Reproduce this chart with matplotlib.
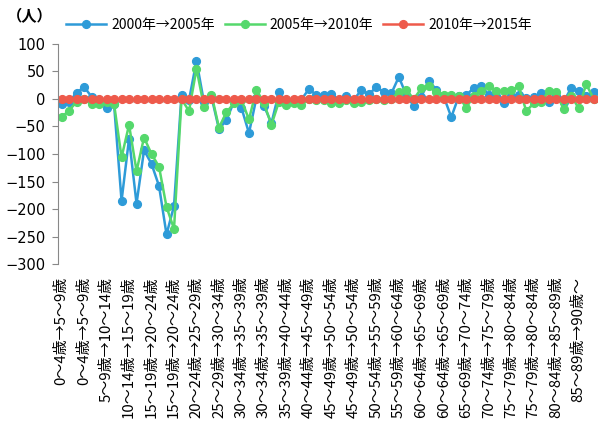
import matplotlib
matplotlib.use("Agg")
import matplotlib.pyplot as plt
import numpy as np

plt.rcParams['font.family'] = ['DejaVu Sans', 'Noto Sans CJK JP']

# age transitions (each appears 4 times in the source table)
transitions = [
    "0～4歳→5～9歳", "5～9歳→10～14歳", "10～14歳→15～19歳", "15～19歳→20～24歳",
    "20～24歳→25～29歳", "25～29歳→30～34歳", "30～34歳→35～39歳", "35～39歳→40～44歳",
    "40～44歳→45～49歳", "45～49歳→50～54歳", "50～54歳→55～59歳", "55～59歳→60～64歳",
    "60～64歳→65～69歳", "65～69歳→70～74歳", "70～74歳→75～79歳", "75～79歳→80～84歳",
    "80～84歳→85～89歳", "85～89歳→90歳～",
]
categories = [t for t in transitions for _ in range(4)]

s_2000_2005 = [
    -9, -5, 11, 22, 4, -2, -17, -10, -185, -72, -190, -93,
    -118, -158, -246, -194, 7, -2, 69, -6, 4, -55, -38, -5,
    -16, -62, 2, -12, -44, 12, -5, -2, -1, 18, 7, 8,
    9, -2, 6, -1, 16, 9, 21, 13, 10, 40, 7, -13,
    4, 33, 17, 4, -33, 5, 7, 20, 23, 8, 6, -8,
    5, 7, 2, 3, 10, -5, 5, -5, 20, 15, 6, 12,
]
s_2005_2010 = [
    -33, -21, -5, 0, -10, -9, -5, -9, -106, -47, -131, -70,
    -100, -123, -196, -236, 0, -22, 55, -14, 8, -52, -24, -8,
    -2, -37, 17, -8, -47, -5, -11, -7, -11, 0, -2, -2,
    -7, -8, -2, -7, -5, -1, 0, -1, 0, 13, 16, 0,
    19, 23, 12, 8, 7, 5, -16, 6, 15, 23, 15, 14,
    16, 23, -22, -8, -5, 15, 12, -19, 6, -17, 27, 0,
]
s_2010_2015 = [0] * 72

series = [
    ("2000年→2005年", s_2000_2005, "#2e9bd8"),
    ("2005年→2010年", s_2005_2010, "#55d86c"),
    ("2010年→2015年", s_2010_2015, "#ee5a4b"),
]

fig = plt.figure(figsize=(6.09, 4.22), dpi=100)
ax = fig.add_axes([0.095, 0.374, 0.886, 0.522])

x = np.arange(len(categories))
for name, vals, col in series:
    ax.plot(x, vals, color=col, lw=1.8, marker="o", ms=5.6, label=name,
            solid_joinstyle="round")

ax.set_xlim(-0.5, len(categories) - 0.5)
ax.set_ylim(-300, 100)
ax.set_yticks(np.arange(-300, 101, 50))
ax.tick_params(axis="y", length=4, width=0.8, color="#888888", labelsize=10.5, pad=5)

# horizontal axis line crosses at zero, with small ticks at category boundaries
ax.axhline(0, color="#aaaaaa", lw=0.9, zorder=0.5)
ax.vlines(np.arange(len(categories) + 1) - 0.5, -6, 0, color="#aaaaaa", lw=0.8, zorder=0.5)

label_idx = x[::3]
ax.set_xticks(label_idx)
ax.set_xticklabels([categories[i] for i in label_idx], rotation=90,
                   family=["Noto Sans CJK JP", "DejaVu Sans"], fontsize=10.8)
ax.tick_params(axis="x", length=0, pad=9)

for s in ("top", "right", "bottom"):
    ax.spines[s].set_visible(False)
ax.spines["left"].set_color("#888888")
ax.spines["left"].set_linewidth(0.8)

fig.legend(loc="center left", bbox_to_anchor=(0.088, 0.94), ncol=3, frameon=False,
           prop={"family": ["Noto Sans CJK JP", "DejaVu Sans"], "size": 10},
           handlelength=2.9, columnspacing=0.7, handletextpad=0.35)
fig.text(0.012, 0.962, "（人）", fontsize=11, fontweight="bold",
         family=["Noto Sans CJK JP", "DejaVu Sans"], va="center")

fig.savefig("out.png", dpi=100)
